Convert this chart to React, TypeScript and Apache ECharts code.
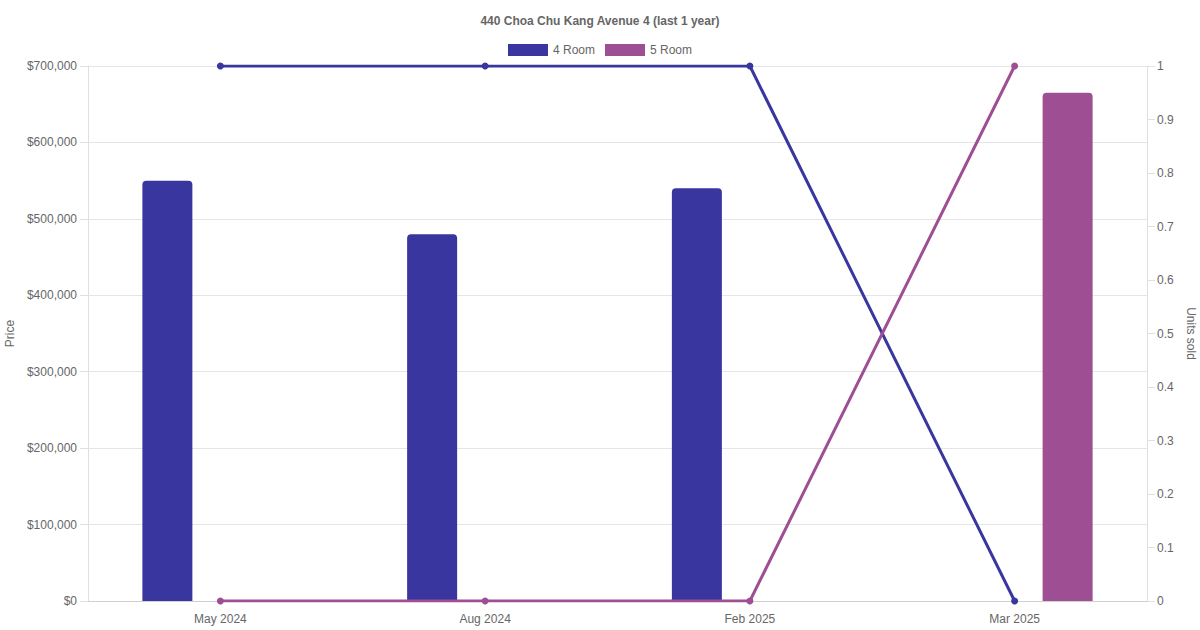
import React, { useEffect, useRef } from "react";
import * as echarts from "echarts";

const categories = ["May 2024", "Aug 2024", "Feb 2025", "Mar 2025"];
const price4Room: (number | null)[] = [550000, 480000, 540000, null];
const price5Room: (number | null)[] = [null, null, null, 665000];
const units4Room = [1, 1, 1, 0];
const units5Room = [0, 0, 0, 1];
const priceTicks = { min: 0, max: 700000, interval: 100000 };
const unitTicks = { min: 0, max: 1, interval: 0.1 };

const C4 = "#3a36a0";
const C5 = "#9e4f94";
const FONT = "Liberation Sans, Arial, Helvetica, sans-serif";
const TXT = "#666666";

export default function App() {
  const ref = useRef<HTMLDivElement>(null);
  useEffect(() => {
    if (!ref.current) return;
    const chart = echarts.init(ref.current, undefined, { renderer: "svg" });
    chart.setOption({
      animation: false,
      textStyle: { fontFamily: FONT },
      title: {
        text: "440 Choa Chu Kang Avenue 4 (last 1 year)",
        left: "center",
        top: 10,
        textStyle: { fontSize: 12, fontWeight: "bold", color: TXT, fontFamily: FONT },
      },
      legend: {
        data: ["4 Room", "5 Room"],
        top: 44,
        left: "center",
        icon: "rect",
        itemWidth: 40,
        itemHeight: 12,
        itemGap: 10,
        padding: [0, 5],
        textStyle: { fontSize: 12, color: TXT, fontFamily: FONT },
      },
      grid: { left: 88, right: 53, top: 66, bottom: 29, containLabel: false, outerBoundsMode: "none" },
      xAxis: {
        type: "category",
        data: categories,
        axisLine: { lineStyle: { color: "#d0d0d0" } },
        axisTick: { show: false },
        axisLabel: { color: TXT, fontSize: 12, margin: 12, fontFamily: FONT },
        splitLine: { show: false },
      },
      yAxis: [
        {
          type: "value",
          ...priceTicks,
          name: "Price",
          nameLocation: "middle",
          nameGap: 69,
          nameTextStyle: { color: TXT, fontSize: 12, fontFamily: FONT },
          axisLine: { show: true, lineStyle: { color: "#e0e0e0" } },
          axisTick: { show: true, length: 8, lineStyle: { color: "#e0e0e0" } },
          axisLabel: {
            color: TXT,
            fontSize: 12,
            margin: 11,
            fontFamily: FONT,
            formatter: (v: number) => "$" + v.toLocaleString("en-US"),
          },
          splitLine: { show: true, lineStyle: { color: "#e5e5e5" } },
        },
        {
          type: "value",
          ...unitTicks,
          position: "right",
          name: "Units sold",
          nameLocation: "middle",
          nameGap: 30,
          nameRotate: -90,
          nameTextStyle: { color: TXT, fontSize: 12, fontFamily: FONT },
          axisLine: { show: true, lineStyle: { color: "#e0e0e0" } },
          axisTick: { show: true, length: 8, lineStyle: { color: "#e0e0e0" } },
          axisLabel: {
            color: TXT,
            fontSize: 12,
            margin: 10,
            fontFamily: FONT,
            formatter: (v: number) => String(Math.round(v * 10) / 10),
          },
          splitLine: { show: false },
        },
      ],
      series: [
        {
          name: "4 Room",
          type: "bar",
          data: price4Room,
          barWidth: 50,
          barGap: "112%",
          itemStyle: { color: C4, borderRadius: [4, 4, 0, 0] },
          z: 2,
        },
        {
          name: "5 Room",
          type: "bar",
          data: price5Room,
          barWidth: 50,
          barGap: "112%",
          itemStyle: { color: C5, borderRadius: [4, 4, 0, 0] },
          z: 2,
        },
        {
          name: "4 Room",
          type: "line",
          yAxisIndex: 1,
          data: units4Room,
          symbol: "circle",
          symbolSize: 7,
          lineStyle: { color: C4, width: 3 },
          itemStyle: { color: C4 },
          z: 3,
        },
        {
          name: "5 Room",
          type: "line",
          yAxisIndex: 1,
          data: units5Room,
          symbol: "circle",
          symbolSize: 7,
          lineStyle: { color: C5, width: 3 },
          itemStyle: { color: C5 },
          z: 3,
        },
      ],
    });
    return () => chart.dispose();
  }, []);
  return (
    <div
      ref={ref}
      style={{ position: "fixed", left: 0, top: 0, width: 1200, height: 630, background: "#fff" }}
    />
  );
}
